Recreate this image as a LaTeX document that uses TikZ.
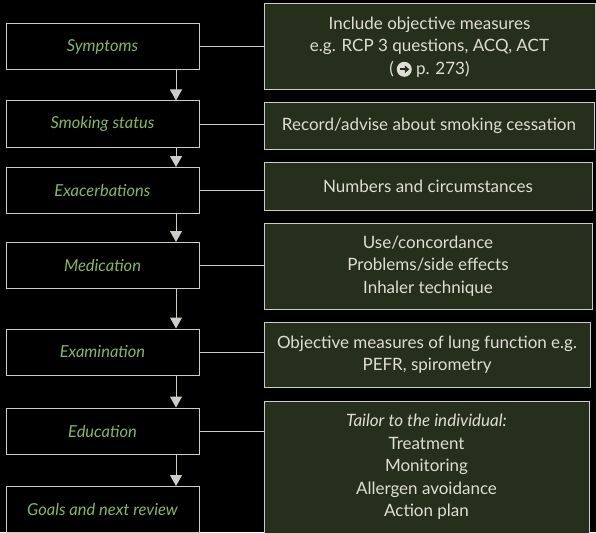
\documentclass[tikz,border=0pt]{standalone}
\usepackage{fontspec}
\setmainfont{Lato}
\usetikzlibrary{arrows.meta,positioning,calc}
\definecolor{reviewgreen}{RGB}{135,182,95}
\definecolor{reviewline}{RGB}{205,205,200}
\definecolor{reviewfill}{RGB}{38,46,28}
\definecolor{reviewtext}{RGB}{222,222,212}

\tikzset{
  stage/.style={draw=reviewline, line width=1pt, text=reviewgreen,
    font=\itshape\fontsize{16.5}{22}\selectfont,
    minimum width=193pt, minimum height=46pt, inner sep=0pt},
  note/.style={draw=reviewline, line width=1pt, fill=reviewfill, text=reviewtext,
    font=\fontsize{17}{22.5}\selectfont, align=center, inner sep=0pt},
  flow/.style={draw=reviewline, line width=1pt, -{Triangle[width=12pt,length=11pt]}},
  link/.style={draw=reviewline, line width=1pt},
}
% circled arrow page reference sign
\newcommand{\pagesign}{\tikz[baseline=-5pt, x=1pt, y=1pt]{
  \fill[reviewtext] (0,0) circle (7.5pt);
  \draw[reviewfill, line width=2.2pt, -{Triangle[width=7.5pt,length=4.5pt]}] (-4.5pt,0) -- (5pt,0);}}

\begin{document}
\begin{tikzpicture}[x=1pt, y=-1pt]
  \fill[black] (0,0) rectangle (596,532);
  \useasboundingbox (0,0) rectangle (596,532);

  % left column: the review steps
  \node[stage] (symptoms) at (102.5,47) {Symptoms};
  \node[stage] (smoking) at (102.5,124) {Smoking status};
  \node[stage] (exacerb) at (102.5,190.5) {Exacerbations};
  \node[stage] (medication) at (102.5,265.5) {Medication};
  \node[stage] (exam) at (102.5,352) {Examination};
  \node[stage] (education) at (102.5,431) {Education};
  \node[stage] (goals) at (102.5,509.5) {Goals and next review};

  % right column: what to do at each step
  \node[note, minimum width=331pt, minimum height=86pt] (symnote) at (429.5,47)
    {Include objective measures\\e.g. RCP 3 questions, ACQ, ACT\\(\,\pagesign\ p. 273)};
  \node[note, minimum width=330pt, minimum height=46pt] (smokenote) at (429,126)
    {Record/advise about smoking cessation};
  \node[note, minimum width=328pt, minimum height=48pt] (exanote) at (428,186)
    {Numbers and circumstances};
  \node[note, minimum width=328pt, minimum height=86pt] (mednote) at (428,266)
    {Use/concordance\\Problems/side effects\\Inhaler technique};
  \node[note, minimum width=326pt, minimum height=65pt] (examnote) at (427,354.5)
    {Objective measures of lung function e.g.\\PEFR, spirometry};
  \node[note, minimum width=325pt, minimum height=132pt] (edunote) at (426.5,467)
    {\textit{Tailor to the individual:}\\Treatment\\Monitoring\\Allergen avoidance\\Action plan};

  % arrows down the left column
  \foreach \a/\b in {symptoms/smoking, smoking/exacerb, exacerb/medication,
                     medication/exam, exam/education, education/goals}
    \draw[flow] ([xshift=73.5pt]\a.south) -- ([xshift=73.5pt]\b.north);

  % links across
  \foreach \a/\b in {symptoms/symnote, smoking/smokenote, exacerb/exanote,
                     medication/mednote, exam/examnote, education/edunote}
    \draw[link] (\a.east) -- (\a.east -| \b.west);
\end{tikzpicture}
\end{document}
